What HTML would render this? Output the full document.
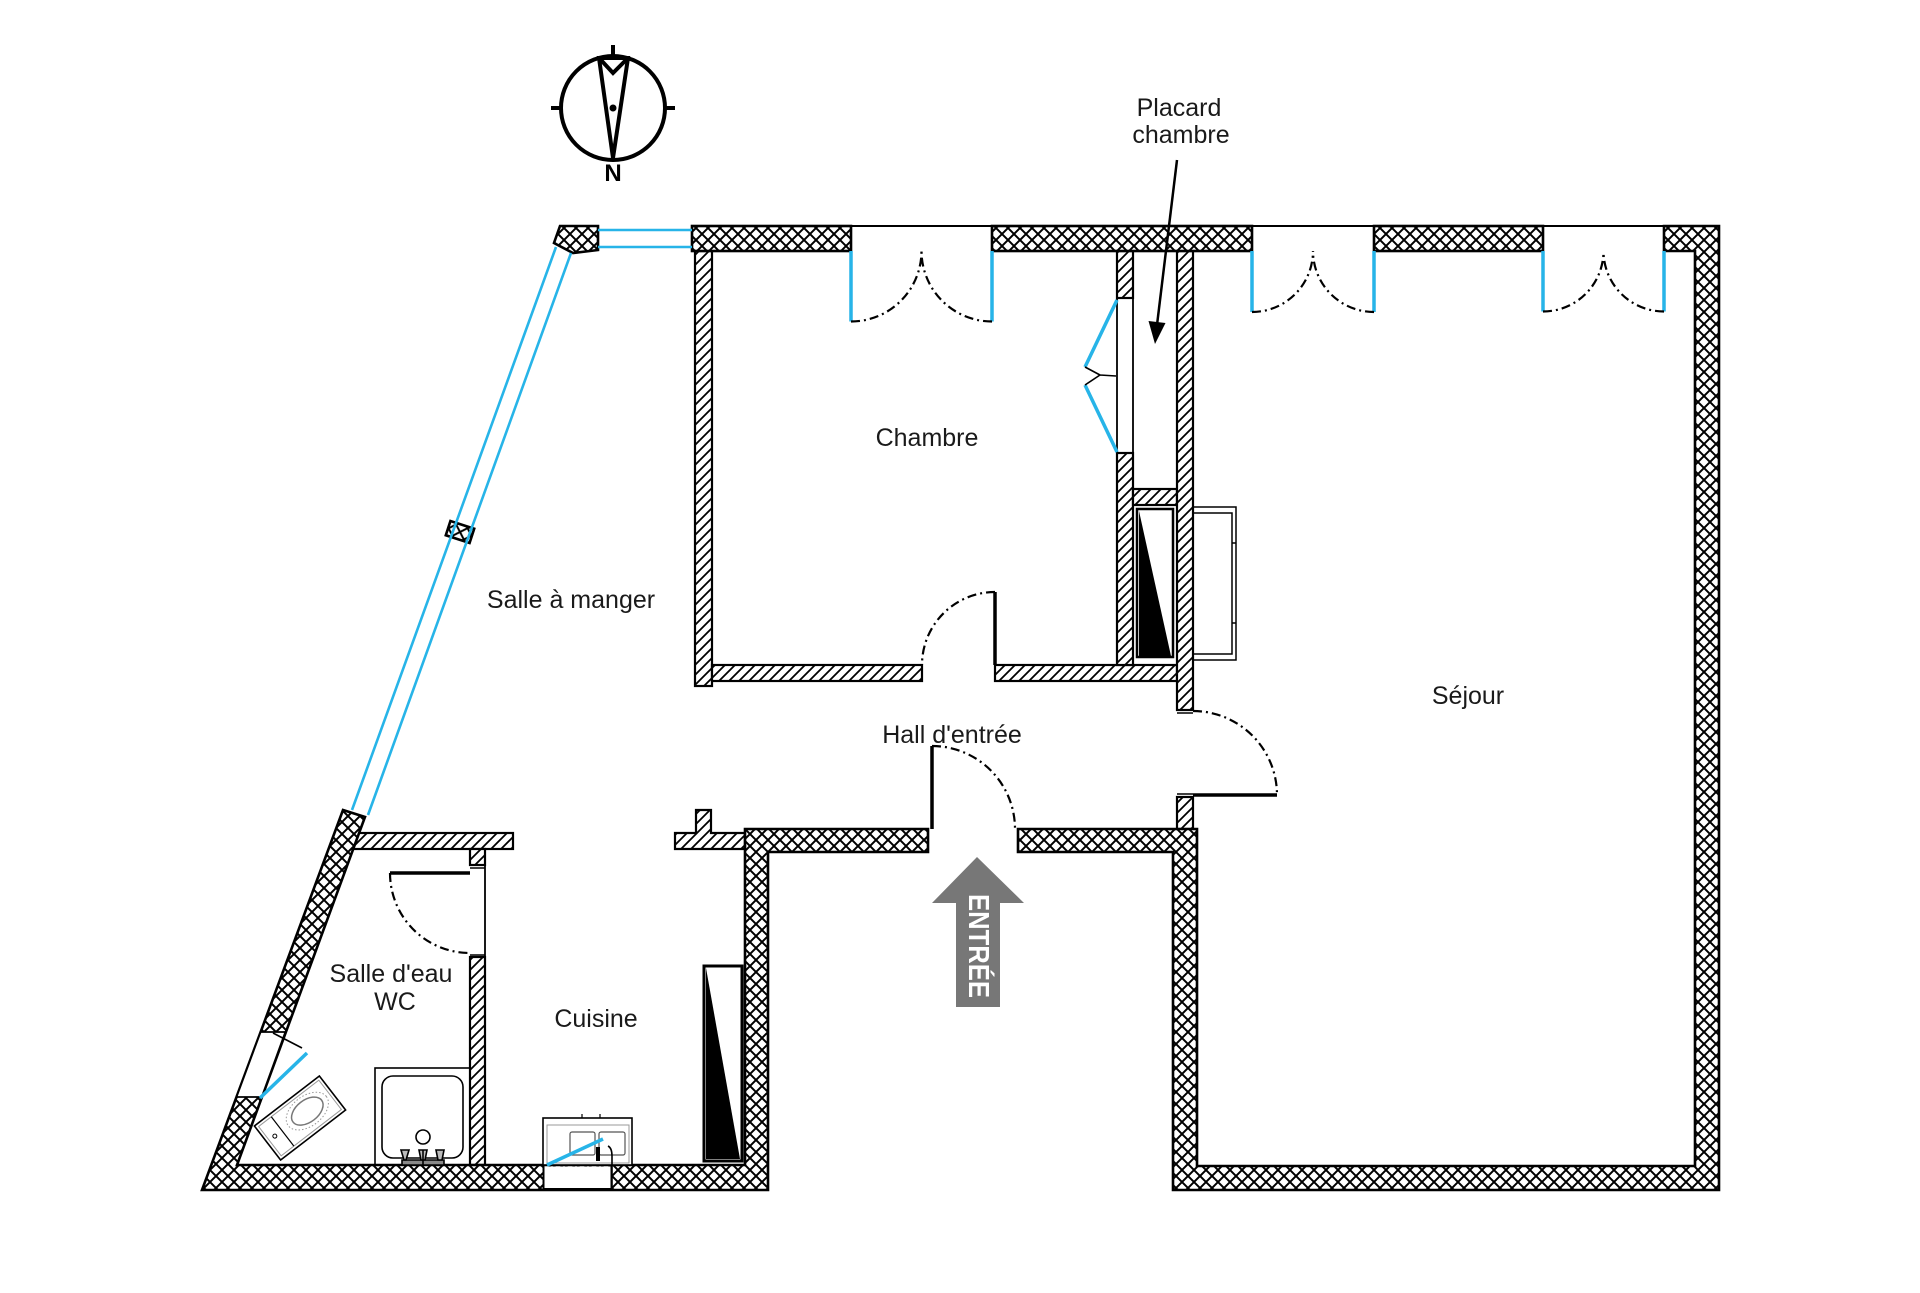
<!DOCTYPE html>
<html>
<head>
<meta charset="utf-8">
<style>
html,body{margin:0;padding:0;background:#fff;}
svg{display:block;}
text{font-family:"Liberation Sans",sans-serif;}
</style>
</head>
<body>
<svg width="1920" height="1293" viewBox="0 0 1920 1293" xmlns="http://www.w3.org/2000/svg">
<defs>
<pattern id="x" width="12" height="12" patternUnits="userSpaceOnUse">
<rect width="12" height="12" fill="#fff"/>
<path d="M-1,-1L13,13M13,-1L-1,13" stroke="#000" stroke-width="2" fill="none"/>
</pattern>
<pattern id="h" width="10" height="10" patternUnits="userSpaceOnUse">
<rect width="10" height="10" fill="#fff"/>
<path d="M-2,12L12,-2M-7,7L7,-7M3,17L17,3" stroke="#000" stroke-width="1.8" fill="none"/>
</pattern>
</defs>
<rect width="1920" height="1293" fill="#fff"/>

<!-- Compass -->
<g stroke="#000" stroke-width="4" fill="none">
<circle cx="613" cy="108" r="52"/>
<path d="M613,45V57M551,108H561M665,108H675"/>
<path d="M599,58L613,158L628,58Z" fill="#fff"/>
<path d="M600,59L613,73L627,59"/>
</g>
<circle cx="613" cy="108" r="3.5" fill="#000"/>
<text x="613" y="181" font-size="24" font-weight="bold" text-anchor="middle" fill="#000">N</text>

<!-- Interior hatched walls -->
<g fill="url(#h)" stroke="#000" stroke-width="2.2">
<rect x="695" y="251" width="17" height="435"/>
<rect x="712" y="665" width="210" height="16"/>
<rect x="995" y="665" width="182" height="16"/>
<rect x="1117" y="251" width="16" height="47"/>
<rect x="1117" y="453" width="16" height="212"/>
<rect x="1133" y="489" width="44" height="16"/>
<rect x="1177" y="251" width="16" height="459"/>
<rect x="1177" y="797" width="16" height="32"/>
<rect x="350" y="833" width="163" height="16"/>
<rect x="470" y="849" width="15" height="16"/>
<rect x="470" y="957" width="15" height="208"/>
<path d="M675,833H696V810H711V833H745V849H675Z"/>
</g>

<!-- Exterior crosshatched walls -->
<g fill="url(#x)" stroke="#000" stroke-width="2.6" stroke-linejoin="miter">
<path d="M1664,226H1719V1190H1173V852H1018V829H1197V1166H1695V251H1664Z"/>
<rect x="1374" y="226" width="169" height="25"/>
<rect x="992" y="226" width="260" height="25"/>
<rect x="692" y="226" width="159" height="25"/>
<path d="M560,226H598V250L573,253L554,243Z"/>
<path d="M745,829H928V852H768V1190H202L343,810L365,817L237,1165H745Z"/>
<rect x="-12.5" y="-7.5" width="25" height="15" transform="translate(460,532) rotate(18)"/>
</g>

<!-- sink gap in bottom wall -->
<rect x="544.5" y="1166.5" width="66" height="22" fill="#fff"/>
<path d="M543.5,1165V1190M611.5,1165V1190M543,1189H612" stroke="#000" stroke-width="2"/>

<!-- bathroom window in diagonal wall -->
<path d="M260.6,1032L285.3,1032L261.7,1097L236.5,1097Z" fill="#fff" stroke="#000" stroke-width="1.8"/>
<path d="M273,1033L302,1048" stroke="#000" stroke-width="1.6"/>
<path d="M260,1098L307,1053" stroke="#27b4e8" stroke-width="3.5"/>

<!-- door opening top outlines -->
<path d="M851,226H992M1252,226H1374M1543,226H1664" stroke="#000" stroke-width="2"/>

<!-- closet opening frame -->
<path d="M1117,298V453M1133,298V453" stroke="#000" stroke-width="1.8"/>

<!-- fireplace niche -->
<rect x="1137" y="509" width="36" height="148" fill="#fff" stroke="#000" stroke-width="2.5"/>
<path d="M1139,511L1139,656L1171,656Z" fill="#000"/>
<!-- mantle -->
<g fill="none" stroke="#000" stroke-width="1.5">
<rect x="1193" y="507" width="43" height="153"/>
<path d="M1193,513H1232V654H1193M1232,543H1236M1232,623H1236"/>
</g>

<!-- windows (blue) -->
<g stroke="#27b4e8" stroke-width="2.6" fill="none">
<path d="M598,230H692M598,247H692"/>
<path d="M556,247L352,810M571,253L368,815"/>
</g>

<!-- blue door leaves -->
<g stroke="#27b4e8" stroke-width="3.5" fill="none">
<path d="M851,251V321.5M992,251V321.5M1252,251V312M1374,251V312M1543,251V311.5M1664,251V311.5"/>
<path d="M1117,300L1085,367M1085,385L1117,452"/>
</g>
<path d="M1085,367L1100,375L1085,385M1100,375L1116,376" stroke="#000" stroke-width="1.6" fill="none"/>

<!-- dash-dot arcs -->
<g stroke="#000" stroke-width="2.2" fill="none" stroke-dasharray="9 4 2 4">
<path d="M851,321.5A70.5,70.5 0 0 0 921.5,251"/>
<path d="M992,321.5A70.5,70.5 0 0 1 921.5,251"/>
<path d="M1252,312A61,61 0 0 0 1313,251"/>
<path d="M1374,312A61,61 0 0 1 1313,251"/>
<path d="M1543,311.5A60.5,60.5 0 0 0 1603.5,251"/>
<path d="M1664,311.5A60.5,60.5 0 0 1 1603.5,251"/>
<path d="M995,592A73,73 0 0 0 922,665"/>
<path d="M932,746A83,83 0 0 1 1015,829"/>
<path d="M1193,711A84,84 0 0 1 1277,795"/>
<path d="M390,873A80,80 0 0 0 470,953"/>
</g>

<!-- black door leaves -->
<g stroke="#000" stroke-width="3.5" fill="none">
<path d="M995,592V665M932,746V829M1193,795H1277M390,873H470"/>
</g>
<path d="M485,865V957" stroke="#000" stroke-width="1.8"/>
<path d="M470,868H485M470,955H485M1177,713H1193M1177,794H1193M922,665V681M995,665V681" stroke="#000" stroke-width="1.5"/>

<!-- fridge -->
<rect x="704" y="966" width="38" height="195" fill="#fff" stroke="#000" stroke-width="3"/>
<path d="M706,968L706,1159L740,1159Z" fill="#000"/>

<!-- shower -->
<g fill="none" stroke="#000" stroke-width="1.6">
<rect x="375" y="1068" width="95" height="97"/>
<rect x="382" y="1076" width="81" height="82" rx="11"/>
<circle cx="423" cy="1137" r="7"/>
<path d="M402,1160H444V1165H402Z" fill="#888"/>
<path d="M401,1150H409L406,1160H404Z M419,1150H427L425,1160H421Z M436,1150H444L442,1160H438Z" fill="#bbb"/>
<path d="M423,1150V1165"/>
</g>

<!-- washbasin -->
<g transform="translate(300,1118) rotate(-37.6)" fill="none" stroke="#000" stroke-width="1.6">
<rect x="-41" y="-21.5" width="82" height="43" fill="#fff"/>
<rect x="-38" y="-18.5" width="76" height="37" stroke="#999" stroke-width="1"/>
<path d="M-22,-18.5V18.5" stroke-width="1.2"/>
<circle cx="-31" cy="-1" r="2" stroke-width="1"/>
<ellipse cx="10" cy="-1" rx="24" ry="15" stroke="#999" stroke-width="1" stroke-dasharray="1.5 2"/>
<ellipse cx="10" cy="-1" rx="18" ry="11" stroke="#777" stroke-width="1.5"/>
</g>

<!-- kitchen sink -->
<g fill="none" stroke="#000" stroke-width="1.6">
<rect x="543" y="1118" width="89" height="47" fill="#fff"/>
<rect x="547" y="1125" width="82" height="38" stroke="#999" stroke-width="1"/>
<rect x="570" y="1132" width="25" height="23" rx="2" stroke="#555" stroke-width="1.2"/>
<rect x="599" y="1132" width="26" height="23" rx="2" stroke="#555" stroke-width="1.2"/>
<path d="M582,1118V1114M600,1118V1114" stroke-width="1.2"/>
<path d="M608,1146Q612,1148 612,1156V1190" stroke-width="1.6"/>
</g>
<rect x="596" y="1147" width="4" height="14" fill="#000"/>
<path d="M547,1165L603,1139" stroke="#27b4e8" stroke-width="3.5"/>

<!-- Placard arrow -->
<path d="M1177,160L1157,325" stroke="#000" stroke-width="2.5"/>
<path d="M1155,344L1165.5,323L1148.5,321Z" fill="#000"/>

<!-- ENTRÉE arrow -->
<path d="M977,857L1024,903H1000V1007H956V903H932Z" fill="#777"/>
<text transform="translate(978,946) rotate(90)" font-size="29" font-weight="bold" fill="#fff" text-anchor="middle" dominant-baseline="central" textLength="104" lengthAdjust="spacingAndGlyphs">ENTRÉE</text>

<!-- Labels -->
<g font-size="25" fill="#1a1a1a" text-anchor="middle">
<text x="1179" y="116">Placard</text>
<text x="1181" y="143">chambre</text>
<text x="927" y="446">Chambre</text>
<text x="571" y="608">Salle à manger</text>
<text x="952" y="743">Hall d'entrée</text>
<text x="1468" y="704">Séjour</text>
<text x="391" y="982">Salle d'eau</text>
<text x="395" y="1010">WC</text>
<text x="596" y="1027">Cuisine</text>
</g>
</svg>
</body>
</html>
